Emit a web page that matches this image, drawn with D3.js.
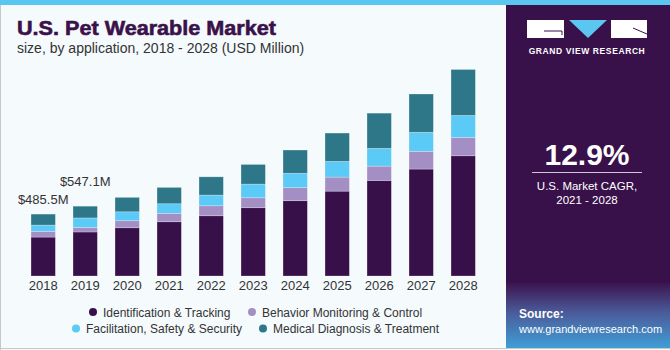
<!DOCTYPE html>
<html>
<head>
<meta charset="utf-8">
<script src="https://cdn.jsdelivr.net/npm/d3@7"></script>
<style>
  body { margin: 0; padding: 0; background: #fff; }
  svg { display: block; font-family: "Liberation Sans", Arial, sans-serif; }
</style>
</head>
<body>
<svg id="chart" width="670" height="350"></svg>
<script>
// data (USD Million)
var years = ["2018","2019","2020","2021","2022","2023","2024","2025","2026","2027","2028"];
var identification = [305, 345, 378, 425, 472, 535, 590, 665, 749, 838, 942];
var behavior       = [ 45,  36,  55,  66,  78,  78, 102, 110, 112, 139, 144];
var facilitation   = [ 49,  74,  70,  75,  84, 107, 113, 123, 139, 149, 172];
var medical        = [ 86,  92, 113, 128, 143, 154, 182, 222, 276, 300, 360];
var seriesNames = ["Identification & Tracking", "Behavior Monitoring & Control",
                   "Facilitation, Safety & Security", "Medical Diagnosis & Treatment"];
var seriesColors = ["#37104a", "#a48fc5", "#5bcaf6", "#2e7789"];
var valueLabels = {"2018": "$485.5M", "2019": "$547.1M"};

var svg = d3.select("#chart");

// background + frame
svg.append("rect").attr("x", 0).attr("y", 0).attr("width", 670).attr("height", 350).attr("fill", "#f5fafd");
svg.append("rect").attr("x", 0).attr("y", 0).attr("width", 670).attr("height", 5).attr("fill", "#5bc6ef");
svg.append("line").attr("x1", 0.5).attr("x2", 0.5).attr("y1", 5).attr("y2", 350).attr("stroke", "#c8c8c8");
svg.append("line").attr("x1", 0).attr("x2", 670).attr("y1", 348.5).attr("y2", 348.5).attr("stroke", "#c8c8c8");

// title
svg.append("text").attr("x", 17).attr("y", 35)
    .style("font-size", "21px").style("font-weight", "bold").attr("fill", "#3a1249")
    .attr("stroke", "#3a1249").attr("stroke-width", 0.6)
    .attr("textLength", 259).attr("lengthAdjust", "spacingAndGlyphs")
    .text("U.S. Pet Wearable Market");
svg.append("text").attr("x", 17).attr("y", 53)
    .style("font-size", "14px").attr("fill", "#333")
    .text("size, by application, 2018 - 2028 (USD Million)");

// build table for the stack
var table = years.map(function (yr, i) {
    return {year: yr, s0: identification[i], s1: behavior[i], s2: facilitation[i], s3: medical[i]};
});
var keys = ["s0", "s1", "s2", "s3"];
var stacked = d3.stack().keys(keys)(table);

var x = d3.scaleBand()
    .domain(years)
    .range([22.2, 484.2])
    .paddingInner(0.42)
    .paddingOuter(0.21);
var y = d3.scaleLinear()
    .domain([0, d3.max(table, function (d) { return d.s0 + d.s1 + d.s2 + d.s3; })])
    .range([276, 69.5]);

svg.append("g").selectAll("g")
    .data(stacked)
    .join("g")
      .attr("fill", function (d, i) { return seriesColors[i]; })
    .selectAll("rect")
    .data(function (d) { return d; })
    .join("rect")
      .attr("x", function (d) { return x(d.data.year); })
      .attr("y", function (d) { return y(d[1]); })
      .attr("width", x.bandwidth())
      .attr("height", function (d) { return y(d[0]) - y(d[1]); })
      .attr("stroke", "rgba(255,255,255,0.35)")
      .attr("stroke-width", 0.7);

// year labels
var xAxis = svg.append("g")
    .attr("transform", "translate(0,276)")
    .call(d3.axisBottom(x).tickSize(0).tickPadding(5));
xAxis.select(".domain").remove();
xAxis.selectAll("text")
    .style("font-size", "13px")
    .style("font-family", "'Liberation Sans', Arial, sans-serif")
    .attr("fill", "#333");

// value labels (second one sits higher, as in the original)
svg.append("g").selectAll("text")
    .data(table.filter(function (d) { return valueLabels[d.year]; }))
    .join("text")
      .attr("x", function (d) { return x(d.year) + x.bandwidth() / 2; })
      .attr("y", function (d, i) { return y(d.s0 + d.s1 + d.s2 + d.s3) - (i == 0 ? 10 : 20); })
      .attr("text-anchor", "middle")
      .style("font-size", "13px")
      .attr("fill", "#333")
      .text(function (d) { return valueLabels[d.year]; });

// legend
var legendPos = [[93, 312], [252, 312], [76, 328.5], [263, 328.5]];
var legend = svg.append("g").selectAll("g")
    .data(seriesNames)
    .join("g")
      .attr("transform", function (d, i) { return "translate(" + legendPos[i][0] + "," + legendPos[i][1] + ")"; });
legend.append("circle").attr("r", 4).attr("fill", function (d, i) { return seriesColors[i]; });
legend.append("text").attr("x", 10).attr("y", 4.5)
    .style("font-size", "12px").attr("fill", "#333")
    .text(function (d) { return d; });

// right panel
var defs = svg.append("defs");
var grad = defs.append("linearGradient").attr("id", "srcGrad")
    .attr("x1", 0).attr("y1", 0).attr("x2", 0).attr("y2", 1);
grad.append("stop").attr("offset", "0%").attr("stop-color", "#3b1550");
grad.append("stop").attr("offset", "45%").attr("stop-color", "#4b5a99");
grad.append("stop").attr("offset", "100%").attr("stop-color", "#3f9fd6");

svg.append("rect").attr("x", 506).attr("y", 5).attr("width", 164).attr("height", 343).attr("fill", "#39114a");
svg.append("rect").attr("x", 506).attr("y", 283).attr("width", 164).attr("height", 65).attr("fill", "url(#srcGrad)");

// logo
svg.append("rect").attr("x", 527).attr("y", 20).attr("width", 37).attr("height", 18).attr("fill", "#fff");
svg.append("path").attr("d", "M544,31 L562,31 L562,35").attr("fill", "none").attr("stroke", "#39114a").attr("stroke-width", 1);
svg.append("path").attr("d", "M569,20 L607,20 L588,38 Z").attr("fill", "#5bc6ef");
svg.append("rect").attr("x", 611).attr("y", 20).attr("width", 36).attr("height", 18).attr("fill", "#fff");
svg.append("path").attr("d", "M633,28 L647,34").attr("stroke", "#39114a").attr("stroke-width", 1);
svg.append("text").attr("x", 587).attr("y", 54).attr("text-anchor", "middle")
    .style("font-size", "8.5px").style("font-weight", "bold").style("letter-spacing", "0.6px")
    .attr("fill", "#fff").text("GRAND VIEW RESEARCH");

svg.append("text").attr("x", 587).attr("y", 165).attr("text-anchor", "middle")
    .style("font-size", "30px").style("font-weight", "bold").attr("fill", "#fff").text("12.9%");
svg.append("line").attr("x1", 532).attr("x2", 642).attr("y1", 172.5).attr("y2", 172.5)
    .attr("stroke", "#cfc6d8").attr("stroke-width", 1);
svg.append("text").attr("x", 587).attr("y", 190).attr("text-anchor", "middle")
    .style("font-size", "11.5px").attr("fill", "#fff").text("U.S. Market CAGR,");
svg.append("text").attr("x", 587).attr("y", 204).attr("text-anchor", "middle")
    .style("font-size", "11.5px").attr("fill", "#fff").text("2021 - 2028");

svg.append("text").attr("x", 519).attr("y", 318)
    .style("font-size", "12px").style("font-weight", "bold").attr("fill", "#fff").text("Source:");
svg.append("text").attr("x", 519).attr("y", 333)
    .style("font-size", "11px").attr("fill", "#fff")
    .text("www.grandviewresearch.com");
</script>
</body>
</html>
